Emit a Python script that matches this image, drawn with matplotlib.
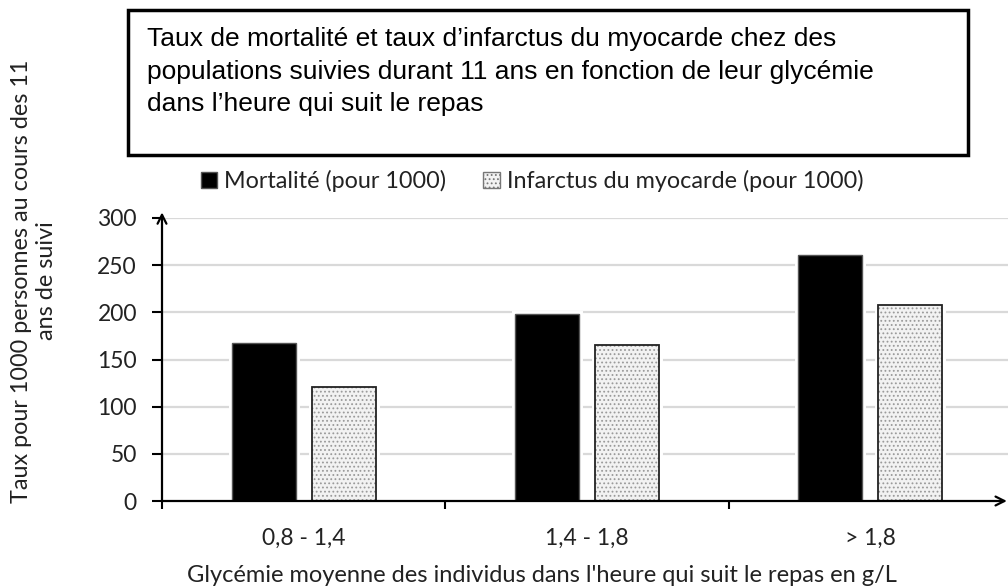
import matplotlib
matplotlib.use("Agg")
import matplotlib.pyplot as plt
import numpy as np
from matplotlib.patches import Rectangle, Patch

categories = ["0,8 - 1,4", "1,4 - 1,8", "> 1,8"]
mortalite = [167, 198, 261]
infarctus = [121, 165, 208]
series_names = ["Mortalité (pour 1000)", "Infarctus du myocarde (pour 1000)"]
yticks = [0, 50, 100, 150, 200, 250, 300]
title = ("Taux de mortalité et taux d’infarctus du myocarde chez des\n"
         "populations suivies durant 11 ans en fonction de leur glycémie\n"
         "dans l’heure qui suit le repas")
ylabel = "Taux pour 1000 personnes au cours des 11\nans de suivi"
xlabel = "Glycémie moyenne des individus dans l'heure qui suit le repas en g/L"

W, H = 1008, 588
fig = plt.figure(figsize=(W / 100, H / 100), dpi=100)
font = ["Lato", "DejaVu Sans"]
plt.rcParams["font.family"] = font
plt.rcParams["hatch.linewidth"] = 0.8

# axes placement (pixels)
x0, x1 = 162, 1012
y0, y1 = 501, 218
ax = fig.add_axes([x0 / W, 1 - y0 / H, (x1 - x0) / W, (y0 - y1) / H])
ax.set_xlim(-0.5, 2.5)
ax.set_ylim(0, 300)

x = np.arange(len(categories))
bw = 0.226
off = 0.141

# gridlines
for v in yticks[1:]:
    ax.axhline(v, color="#d9d9d9", lw=1.6, zorder=0)

# white halos around bars
ax.bar(x - off, mortalite, bw, color="white", edgecolor="white", lw=5, zorder=1)
ax.bar(x + off, infarctus, bw, color="white", edgecolor="white", lw=5, zorder=1)
# mortality bars
ax.bar(x - off, mortalite, bw, color="black", edgecolor="#555555", lw=1.0, zorder=2)
# infarct bars: dotted light fill
ax.bar(x + off, infarctus, bw, color="#f2f2f2", edgecolor="#9a9a9a", lw=0,
       hatch="....", zorder=2)
ax.bar(x + off, infarctus, bw, color="none", edgecolor="#222222", lw=1.3, zorder=3)

for s in ax.spines.values():
    s.set_visible(False)

# axes with arrows
ax.annotate("", xy=(-0.5, 306), xytext=(-0.5, 0),
            arrowprops=dict(arrowstyle="->", lw=1.6, color="black",
                            mutation_scale=16, shrinkA=0, shrinkB=0),
            annotation_clip=False, zorder=5)
ax.annotate("", xy=(2.482, 0), xytext=(-0.5, 0),
            arrowprops=dict(arrowstyle="->", lw=1.6, color="black",
                            mutation_scale=16, shrinkA=0, shrinkB=0),
            annotation_clip=False, zorder=5)

ax.set_yticks(yticks)
ax.set_yticklabels([str(v) for v in yticks], fontsize=16.5, color="#222222")
ax.tick_params(axis="y", length=7, width=1.5, pad=11, direction="out")

ax.set_xticks([-0.5, 0.5, 1.5])
ax.set_xticklabels(["", "", ""])
ax.tick_params(axis="x", which="major", length=6, width=1.5, direction="out")
ax.set_xticks(x, minor=True)
ax.set_xticklabels(categories, minor=True, fontsize=16.5, color="#222222")
ax.tick_params(axis="x", which="minor", length=0, pad=19)

fig.text(542 / W, 1 - 575 / H, xlabel, ha="center", va="center",
         fontsize=17, color="#222222")
fig.text(34 / W, 1 - 281 / H, ylabel, ha="center", va="center", rotation=90,
         fontsize=16.8, color="#222222", linespacing=1.25)

# title box
fig.patches.append(Rectangle((128 / W, 1 - 155 / H), (968 - 128) / W, (155 - 10) / H,
                             transform=fig.transFigure, fill=False,
                             edgecolor="black", lw=2.5))
fig.text(147 / W, 1 - 27 / H, title, ha="left", va="top",
         fontsize=19, family=["Liberation Sans", "DejaVu Sans"],
         linespacing=1.45, color="black")

handles = [Patch(facecolor="black", edgecolor="#555555"),
           Patch(facecolor="#f2f2f2", edgecolor="#777777", hatch="....")]
fig.legend(handles, series_names, loc="center", bbox_to_anchor=(532 / W, 1 - 181 / H),
           ncol=2, frameon=False, fontsize=16.8, handlelength=0.7, handleheight=0.7,
           handletextpad=0.3, columnspacing=1.6, labelcolor="#222222")

fig.savefig("out.png", dpi=100)
